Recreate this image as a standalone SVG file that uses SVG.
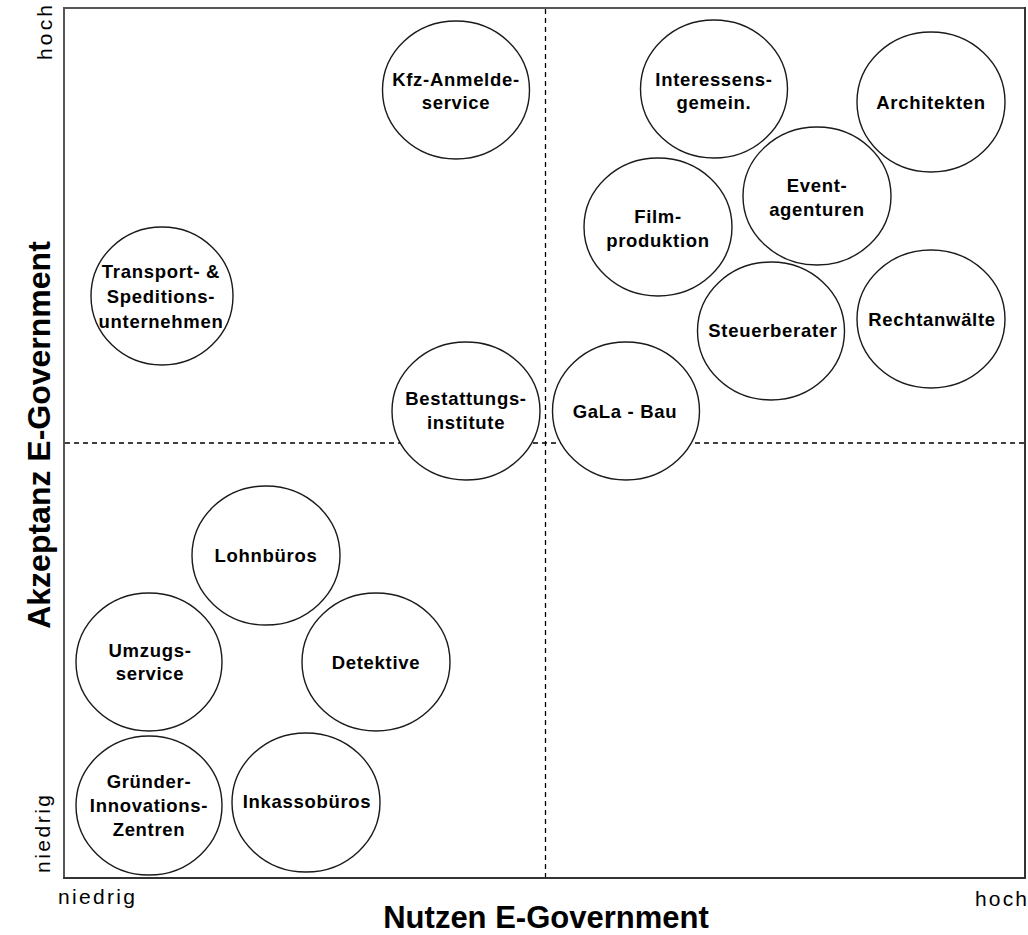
<svg xmlns="http://www.w3.org/2000/svg" width="1028" height="935" viewBox="0 0 1028 935">
<style>
.node ellipse{fill:#fff;stroke:#1a1a1a;stroke-width:1.4}
.node text{font-family:"Liberation Sans",Arial,sans-serif;font-weight:bold;font-size:18.5px;letter-spacing:0.7px;text-anchor:middle;fill:#000}
.axis{font-family:"Liberation Sans",Arial,sans-serif;font-size:21px;fill:#000}
.title{font-family:"Liberation Sans",Arial,sans-serif;font-weight:bold;fill:#000;text-anchor:middle}
.dash{stroke:#000;stroke-width:1.3;stroke-dasharray:5 4;fill:none}
</style>
<rect width="1028" height="935" fill="#fff"/>
<g id="frame">
<line x1="64" y1="8" x2="1025" y2="8" stroke="#555" stroke-width="2"/>
<line x1="64" y1="7" x2="64" y2="879" stroke="#555" stroke-width="2"/>
<line x1="1025" y1="7" x2="1025" y2="879" stroke="#333" stroke-width="2"/>
<line x1="63" y1="878" x2="1026" y2="878" stroke="#333" stroke-width="2"/>
</g>
<g id="connectors">
<line class="dash" x1="545.5" y1="9" x2="545.5" y2="877"/>
<line class="dash" x1="65" y1="443" x2="1024" y2="443"/>
</g>
<g id="kfz" class="node"><ellipse cx="456" cy="90" rx="73.5" ry="69"/><text x="456" y="86">Kfz-Anmelde-</text><text x="456" y="109">service</text></g>
<g id="interessens" class="node"><ellipse cx="714" cy="89" rx="73.5" ry="69"/><text x="714" y="86">Interessens-</text><text x="714" y="109">gemein.</text></g>
<g id="architekten" class="node"><ellipse cx="931" cy="102" rx="74" ry="70"/><text x="931" y="109">Architekten</text></g>
<g id="event" class="node"><ellipse cx="817" cy="196" rx="74" ry="69"/><text x="817" y="192">Event-</text><text x="817" y="216">agenturen</text></g>
<g id="film" class="node"><ellipse cx="658" cy="227" rx="74" ry="69"/><text x="658" y="223">Film-</text><text x="658" y="247">produktion</text></g>
<g id="transport" class="node"><ellipse cx="162" cy="296" rx="71" ry="69"/><text x="161" y="278">Transport- &amp;</text><text x="161" y="303">Speditions-</text><text x="161" y="328">unternehmen</text></g>
<g id="steuerberater" class="node"><ellipse cx="771" cy="331" rx="73.5" ry="69"/><text x="773" y="337">Steuerberater</text></g>
<g id="rechtanwaelte" class="node"><ellipse cx="931" cy="319" rx="74" ry="69"/><text x="932" y="326">Rechtanwälte</text></g>
<g id="bestattung" class="node"><ellipse cx="466" cy="411" rx="74" ry="69"/><text x="466" y="405">Bestattungs-</text><text x="466" y="429">institute</text></g>
<g id="gala" class="node"><ellipse cx="626" cy="411" rx="73.5" ry="69"/><text x="625" y="418">GaLa - Bau</text></g>
<g id="lohnbueros" class="node"><ellipse cx="266" cy="555.5" rx="74" ry="69.5"/><text x="266" y="562">Lohnbüros</text></g>
<g id="umzug" class="node"><ellipse cx="149" cy="662" rx="73" ry="69"/><text x="150" y="657">Umzugs-</text><text x="150" y="680">service</text></g>
<g id="detektive" class="node"><ellipse cx="376" cy="662" rx="74" ry="69"/><text x="376" y="669">Detektive</text></g>
<g id="gruender" class="node"><ellipse cx="149" cy="805.5" rx="73" ry="69.5"/><text x="149" y="788">Gründer-</text><text x="149" y="812">Innovations-</text><text x="149" y="836">Zentren</text></g>
<g id="inkasso" class="node"><ellipse cx="306" cy="802.5" rx="74" ry="69.5"/><text x="307" y="808">Inkassobüros</text></g>
<g id="labels">
<text class="axis" x="58" y="904" textLength="77" lengthAdjust="spacing">niedrig</text>
<text class="axis" x="975" y="906" textLength="52" lengthAdjust="spacing">hoch</text>
<text class="axis" transform="translate(52,60) rotate(-90)" x="0" y="0" textLength="55" lengthAdjust="spacing">hoch</text>
<text class="axis" transform="translate(50,873) rotate(-90)" x="0" y="0" textLength="78" lengthAdjust="spacing">niedrig</text>
<text class="title" font-size="31" x="546" y="928">Nutzen E-Government</text>
<text class="title" font-size="32" transform="translate(50,435) rotate(-90)" x="0" y="0">Akzeptanz E-Government</text>
</g>
</svg>
